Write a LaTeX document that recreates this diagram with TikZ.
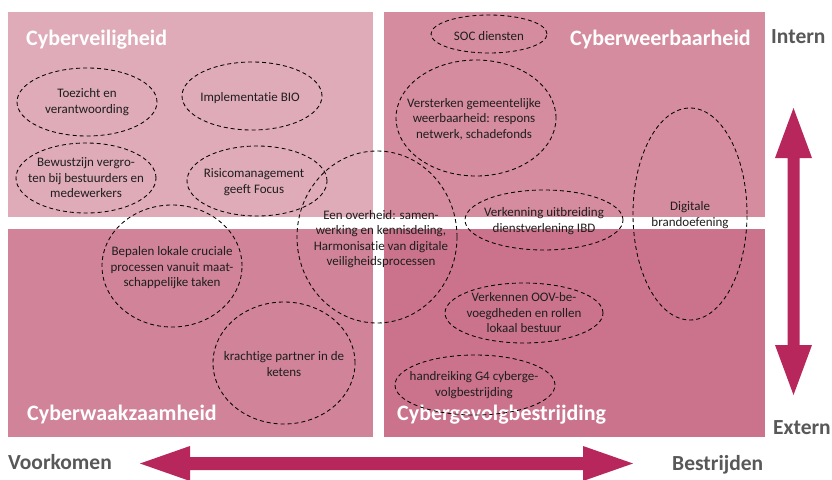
\documentclass[tikz,border=0pt]{standalone}
\usepackage{fontspec}
\setmainfont{Carlito}[Ligatures=NoCommon]
\definecolor{qtl}{HTML}{DFABB8}
\definecolor{qtr}{HTML}{D68C9F}
\definecolor{qbl}{HTML}{D18399}
\definecolor{qbr}{HTML}{CB738D}
\definecolor{arrowred}{HTML}{B8275C}
\definecolor{axisgray}{HTML}{585858}
\definecolor{txtcol}{HTML}{1E1E1E}
\begin{document}
\begin{tikzpicture}[x=1pt,y=-1pt,
  txt/.style={font=\fontsize{13}{15.5}\selectfont, align=center, text=txtcol, inner sep=0pt},
  oval/.style={draw=black, dash pattern=on 4pt off 3pt, line width=0.85pt},
  quad/.style={font=\fontsize{22}{24}\selectfont\bfseries, text=white, anchor=base west, inner sep=0pt},
  axislbl/.style={font=\fontsize{21.5}{24}\selectfont\bfseries, text=axisgray, anchor=base west, inner sep=0pt},
  arr/.style={fill=arrowred, draw=none}]
\useasboundingbox (0,0) rectangle (832,479);
\fill[white] (0,0) rectangle (832,479);
% quadrants
\fill[qtl] (8,12) rectangle (373,217);
\fill[qtr] (384,12) rectangle (765,217);
\fill[qbl] (8,229) rectangle (373,437);
\fill[qbr] (384,229) rectangle (765,437);
% quadrant titles
\node[quad] (q1) at (26,45) {Cyberveiligheid};
\node[quad] (q2) at (570,45) {Cyberweerbaarheid};
\node[quad] (q3) at (27,420) {Cyberwaakzaamheid};
\node[quad] (q4) at (397,420) {Cybergevolgbestrijding};
% ellipses
\draw[oval] (87,102) ellipse [x radius=70pt, y radius=34pt];
\draw[oval] (252,96) ellipse [x radius=70pt, y radius=34pt];
\draw[oval] (86,178) ellipse [x radius=70pt, y radius=35pt];
\draw[oval] (257,181) ellipse [x radius=70pt, y radius=35pt];
\draw[oval] (377,237) ellipse [x radius=80pt, y radius=86pt];
\draw[oval] (172,266) ellipse [x radius=70pt, y radius=61pt];
\draw[oval] (284,363) ellipse [x radius=71pt, y radius=61pt];
\draw[oval] (489,34) ellipse [x radius=58pt, y radius=19pt];
\draw[oval] (476,118) ellipse [x radius=80pt, y radius=58pt];
\draw[oval] (544,220) ellipse [x radius=79pt, y radius=30pt];
\draw[oval] (690,214) ellipse [x radius=57pt, y radius=106pt];
\draw[oval] (524,313) ellipse [x radius=79pt, y radius=30pt];
\draw[oval] (475,385) ellipse [x radius=80pt, y radius=30pt];
% texts
\node[txt] (t1) at (87,102) {Toezicht en\\verantwoording};
\node[txt] (t2) at (250,98) {Implementatie BIO};
\node[txt] (t3) at (86,178) {Bewustzijn vergro-\\ten bij bestuurders en\\medewerkers};
\node[txt] (t4) at (254,182) {Risicomanagement\\geeft Focus};
\node[txt] (t5) at (381,239) {Een overheid: samen-\\werking en kennisdeling,\\Harmonisatie van digitale\\veiligheidsprocessen};
\node[txt] (t6) at (172,268) {Bepalen lokale cruciale\\processen vanuit maat-\\schappelijke taken};
\node[txt] (t7) at (284,364) {krachtige partner in de\\ketens};
\node[txt] (t8) at (489,36) {SOC diensten};
\node[txt] (t9) at (474,119) {Versterken gemeentelijke\\weerbaarheid: respons\\netwerk, schadefonds};
\node[txt] (t10) at (544,221) {Verkenning uitbreiding\\dienstverlening IBD};
\node[txt] (t11) at (690,215) {Digitale\\brandoefening};
\node[txt] (t12) at (524,313) {Verkennen OOV-be-\\voegdheden en rollen\\lokaal bestuur};
\node[txt] (t13) at (474,385) {handreiking G4 cyberge-\\volgbestrijding};
% axis labels
\node[axislbl] (intern) at (771,43) {Intern};
\node[axislbl] (extern) at (773,434) {Extern};
\node[axislbl] (voor) at (8,469) {Voorkomen};
\node[axislbl] (bestr) at (672,470) {Bestrijden};
% vertical double arrow
\fill[arr] (793.5,108) -- (812,158) -- (799.5,158) -- (799.5,345) -- (812,345)
  -- (793.5,395) -- (775,345) -- (787.5,345) -- (787.5,158) -- (775,158) -- cycle;
% horizontal double arrow
\fill[arr] (140,463.5) -- (190,446) -- (190,457) -- (583,457) -- (583,446)
  -- (633,463.5) -- (583,481) -- (583,470) -- (190,470) -- (190,481) -- cycle;
\end{tikzpicture}
\end{document}
